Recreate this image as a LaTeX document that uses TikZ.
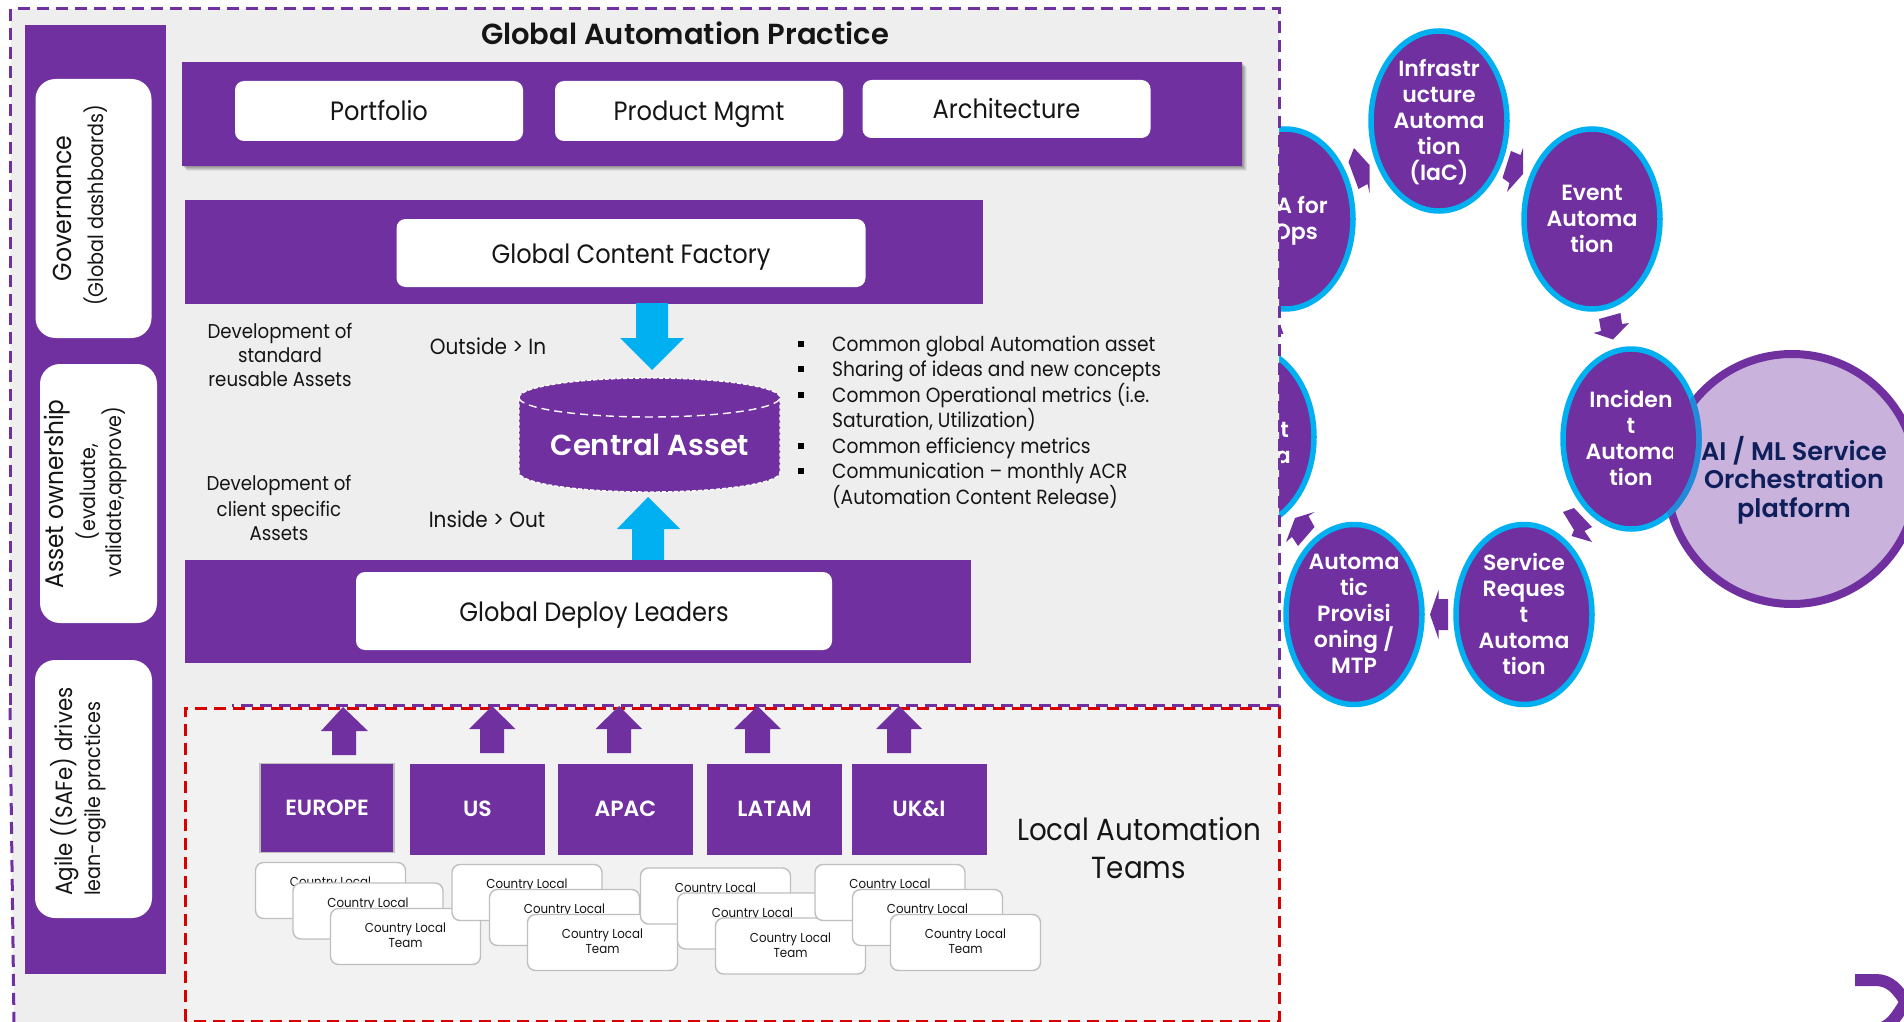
\documentclass[tikz,border=0pt]{standalone}
\usepackage{fontspec}
\setmainfont[FakeStretch=0.91]{Poppins}
\newfontfamily\semifont{Poppins SemiBold}
\definecolor{pur}{HTML}{7030A0}
\definecolor{cya}{HTML}{00B0F0}
\definecolor{lil}{HTML}{C9B2DB}
\definecolor{navy}{HTML}{0E1F5C}
\definecolor{ink}{HTML}{151515}
\definecolor{panela}{HTML}{EEEEEE}
\definecolor{panelb}{HTML}{F2F2F2}
\newcommand{\fs}[1]{\fontsize{#1}{#1}\selectfont}
\usetikzlibrary{shapes.geometric}
\tikzset{
  x=1pt,y=-1pt,
  whitebox/.style={fill=white,rounded corners=9pt,inner sep=0pt,align=center,text=ink,text height=24pt,text depth=4pt,font=\fs{26.5}},
  sidebox/.style={fill=white,rounded corners=20pt,inner sep=0pt},
  purbar/.style={fill=pur,draw=none},
  region/.style={fill=pur,inner sep=0pt,minimum height=91pt,minimum width=135pt,text=white,font=\semifont\fs{22}},
  team/.style={draw=black!25,line width=1.4pt,fill=white,rounded corners=8pt,inner sep=0pt,minimum width=150pt,minimum height=56pt},
  label/.style={inner sep=0pt,align=center,text=ink},
  bullettext/.style={inner sep=0pt,anchor=base west,text=ink,font=\fs{20.5}},
  cyclenode/.style={ellipse,draw=cya,fill=pur,line width=5.5pt,minimum width=136pt,minimum height=180pt,inner sep=0pt},
  cycletext/.style={inner sep=0pt,align=center,text=white,font=\semifont\fs{22}},
  smallarrow/.style={fill=pur,draw=none},
  dashline/.style={line width=3pt,dash pattern=on 12pt off 7pt},
}
\newcommand{\teamnode}[3]{%
  \node[team] (#1) at (#2,#3) {};
  \node[label,font=\fs{13},anchor=center] (#1t) at (#2,#3-1) {Country Local\\[2pt]Team};
}
\newcommand{\blockup}[8]{% fill, tipx, tipy, heady, headL, headR, shaftL, shaftR ; bottom in \blockbot
  \fill[#1] (#2,#3) -- (#6,#4) -- (#8,#4) -- (#8,\blockbot) -- (#7,\blockbot) -- (#7,#4) -- (#5,#4) -- cycle;
}
\begin{document}
\begin{tikzpicture}
\useasboundingbox (0,0) rectangle (1904,1022);
\clip (0,0) rectangle (1904,1022);
\fill[white] (0,0) rectangle (1904,1022);

% ---------- right hand cycle
\node[ellipse,draw=pur,fill=lil,line width=8pt,minimum width=250pt,minimum height=250pt,inner sep=0pt] (aiml) at (1792,479) {};
\node[cyclenode] (infra) at (1439,121) {};
\node[cyclenode] (event) at (1592,219) {};
\node[cyclenode] (ops)   at (1285,219) {};
\node[cyclenode] (lower) at (1246,437) {};
\node[cyclenode] (incident) at (1631,439) {};
\node[cyclenode] (service)  at (1524,614.5) {};
\node[cyclenode] (provision) at (1354,614.5) {};
\begin{scope}
  \clip (aiml.center) ellipse [x radius=129,y radius=129];
  \draw[draw=cya!70!pur,line width=5.5pt] (1631,439) ellipse [x radius=68,y radius=90];
\end{scope}

\node[cycletext] (infrat) at (1439,122) {Infrastr\\[4pt]ucture\\[4pt]Automa\\[4pt]tion\\[4pt](IaC)};
\node[cycletext] (eventt) at (1592,219) {Event\\[4pt]Automa\\[4pt]tion};
\node[cycletext,anchor=base east] (opst1) at (1328,213) {A for};
\node[cycletext,anchor=base east] (opst2) at (1318,239) {Ops};
\node[cycletext,anchor=base east] (lowert1) at (1289,437) {t};
\node[cycletext,anchor=base east] (lowert2) at (1291,463) {a};
\begin{scope}
  \clip (1560,340) rectangle (1672,540);
  \node[cycletext] (incidentt) at (1631,438) {Inciden\\[4pt]t\\[4pt]Automa\\[4pt]tion};
\end{scope}
\node[cycletext] (servicet) at (1524,614) {Service\\[4pt]Reques\\[4pt]t\\[4pt]Automa\\[4pt]tion};
\node[cycletext] (provisiont) at (1354,614) {Automa\\[4pt]tic\\[4pt]Provisi\\[4pt]oning /\\[4pt]MTP};
\node[inner sep=0pt,align=center,text=navy,font=\semifont\fs{25.5}] (aimlt) at (1794,480) {AI / ML Service\\[3pt]Orchestration\\[3pt]platform};

% small cycle arrows
\fill[smallarrow] (1354,148) -- (1369.5,165) -- (1369.5,193) -- (1367.5,184) -- (1358.5,189) -- (1348.5,162) -- cycle;
\fill[smallarrow] (1523,148) -- (1523,174) -- (1507,192) -- (1509.5,183) -- (1502.5,178) -- (1511,151) -- (1520.5,155) -- cycle;
\fill[smallarrow] (1599,319) -- (1620.5,313) -- (1622,324) -- (1629,323) -- (1613,339.5) -- (1593.5,333) -- (1601,331) -- cycle;
\fill[smallarrow] (1563,512) -- (1574,508) -- (1592,527) -- (1584.5,531) -- (1592,542) -- (1571.5,536) -- (1574,530) -- cycle;
\fill[smallarrow] (1448,599) -- (1448,630) -- (1438.5,630) -- (1438.5,639) -- (1430,614.5) -- (1438.5,590) -- (1438.5,599) -- cycle;
\fill[smallarrow] (1295,518) -- (1314.5,512) -- (1308.5,516) -- (1314.5,527) -- (1298,546) -- (1292,537) -- (1286,542) -- cycle;
\fill[smallarrow] (1276,333) -- (1281,327) -- (1283.5,334) -- cycle;

% logo fragment
\draw[pur,line width=12pt] (1855,980) -- (1876,980) .. controls (1890,980) and (1898,990) .. (1905,1001);
\draw[pur,line width=12pt] (1905,1003) .. controls (1898,1014) and (1890,1029) .. (1876,1029) -- (1855,1029);

% ---------- panels
\fill[panela] (10.7,9) -- (1279,9) -- (1279,1023) -- (14,1023) -- (10,706) -- cycle;
\fill[panelb] (185,708) rectangle (1279,1021);
\draw[pur,dashline] (10.7,705) -- (10.7,9) -- (1279,9) -- (1279,705) -- (232,705);
\draw[pur,dashline] (10,708) -- (14,1023);
\draw[red!85!black,dashline] (185,1021) -- (185,708) -- (1279,708) -- (1279,1021) -- cycle;

% ---------- left column
\fill[purbar] (25,25) rectangle (166,974);
\node[sidebox,minimum width=116pt,minimum height=259pt] (gov) at (93.5,208.5) {};
\node[sidebox,minimum width=117pt,minimum height=259pt] (asset) at (98.5,493.5) {};
\node[sidebox,minimum width=117pt,minimum height=258pt] (agile) at (93.5,789) {};
\node[label,rotate=90,font=\fs{26}] (govt1) at (62,208.5) {Governance};
\node[label,rotate=90,font=\fs{21}] (govt2) at (96,205.5) {(Global dashboards)};
\node[label,rotate=90,font=\fs{25.5}] (assett1) at (57,494) {Asset ownership};
\node[label,rotate=90,font=\fs{21}] (assett2) at (88,492) {(evaluate,};
\node[label,rotate=90,font=\fs{21}] (assett3) at (114,492) {validate,approve)};
\node[label,rotate=90,font=\fs{23.5},anchor=west] (agilet1) at (65,896) {Agile ((SAFe) drives};
\node[label,rotate=90,font=\fs{21},anchor=west] (agilet2) at (95,896) {lean-agile practices};

% ---------- title and top band
\node[label,font=\semifont\fs{29}] (title) at (685,33) {Global Automation Practice};
\foreach \i/\o in {1/.10,2/.10,3/.10,4/.08,5/.06}
  \fill[black,opacity=\o] (182+\i,62+\i) rectangle (1242+\i,166+\i);
\fill[purbar] (182,62) rectangle (1242,166);
\node[whitebox,minimum width=288pt,minimum height=60pt] (portfolio) at (379,111) {Portfolio};
\node[whitebox,minimum width=288pt,minimum height=60pt] (product) at (699,111) {Product Mgmt};
\node[whitebox,minimum width=288pt,minimum height=58pt] (arch) at (1006.5,109) {Architecture};

% ---------- content factory
\fill[purbar] (185,200) rectangle (983,304);
\node[whitebox,minimum width=469pt,minimum height=68pt] (factory) at (631,253) {Global Content Factory};

\node[label,font=\fs{20},align=center] (devstd) at (280,355) {Development of\\[4pt]standard\\[4pt]reusable Assets};
\node[label,font=\fs{20},align=center] (devcli) at (279,508) {Development of\\[4pt]client specific\\[4pt]Assets};
\node[label,font=\fs{22}] (outin) at (488,346) {Outside > In};
\node[label,font=\fs{22}] (inout) at (487,519) {Inside > Out};

% central arrows
\fill[cya] (636,303) -- (668,303) -- (668,338) -- (684,338) -- (652,370) -- (620,338) -- (636,338) -- cycle;
\fill[cya] (648,497) -- (680,529) -- (664,529) -- (664,564) -- (632,564) -- (632,529) -- (617,529) -- cycle;

% cylinder
\path[fill=pur,draw=white,line width=1.4pt,dash pattern=on 4pt off 2pt]
  (519,397.5) -- (519,472.5) arc [start angle=180,end angle=0,x radius=130.5,y radius=19.5]
  -- (780,397.5) arc [start angle=0,end angle=-180,x radius=130.5,y radius=19.5] -- cycle;
\draw[white,line width=1.4pt,dash pattern=on 8pt off 5pt]
  (519,397.5) arc [start angle=180,end angle=0,x radius=130.5,y radius=19.5];
\node[inner sep=0pt,text=white,font=\semifont\fs{29}] (central) at (650,445) {Central Asset};

% bullets
\foreach \n/\yy/\tx in {a/351/Common global Automation asset,b/376/Sharing of ideas and new concepts,c/402/Common Operational metrics (i.e.,d/453/Common efficiency metrics,e/478/Communication – monthly ACR}{
  \fill[black] (798,\yy-10) rectangle (803.5,\yy-4.5);
  \node[bullettext] (bul\n) at (832,\yy) {\tx};
}
\node[bullettext] (bulc2) at (832,427) {Saturation, Utilization)};
\node[bullettext] (bule2) at (832,504) {(Automation Content Release)};

% ---------- deploy leaders
\fill[purbar] (185,560) rectangle (971,663);
\node[whitebox,minimum width=476pt,minimum height=78pt] (deploy) at (594,611) {Global Deploy Leaders};

% ---------- purple block arrows
\def\blockbot{755}\blockup{pur}{343}{707}{731}{321}{368}{332}{356}
\def\blockbot{753}\blockup{pur}{492}{706}{729}{469}{515.5}{480}{504}
\blockup{pur}{619}{706}{729}{595.5}{642}{607}{631}
\blockup{pur}{757.5}{706}{729}{734}{781}{745}{770}
\blockup{pur}{899}{706}{729}{876}{922}{887}{911}

% ---------- regions
\node[region,draw=black!25,line width=1.2pt,minimum width=134pt,minimum height=89pt] (europe) at (327,808) {EUROPE};
\node[region] (us) at (477.5,809) {US};
\node[region] (apac) at (625.5,809) {APAC};
\node[region] (latam) at (774.5,809) {LATAM};
\node[region] (uki) at (919,809) {UK\&I};

% ---------- teams
\teamnode{ta1}{330.5}{890.5}
\teamnode{ta2}{368}{911}
\teamnode{ta3}{405.5}{936.5}
\teamnode{tb1}{527}{892.5}
\teamnode{tb2}{564.5}{917.5}
\teamnode{tb3}{602.5}{942.5}
\teamnode{tc1}{715.5}{896}
\teamnode{tc2}{752.5}{921}
\teamnode{tc3}{790.5}{946}
\teamnode{td1}{890}{892.5}
\teamnode{td2}{927.5}{917.5}
\teamnode{td3}{965.5}{942.5}

\node[label,font=\fs{30.5}] (local) at (1139,848) {Local Automation\\[7pt]Teams};
\end{tikzpicture}
\end{document}
